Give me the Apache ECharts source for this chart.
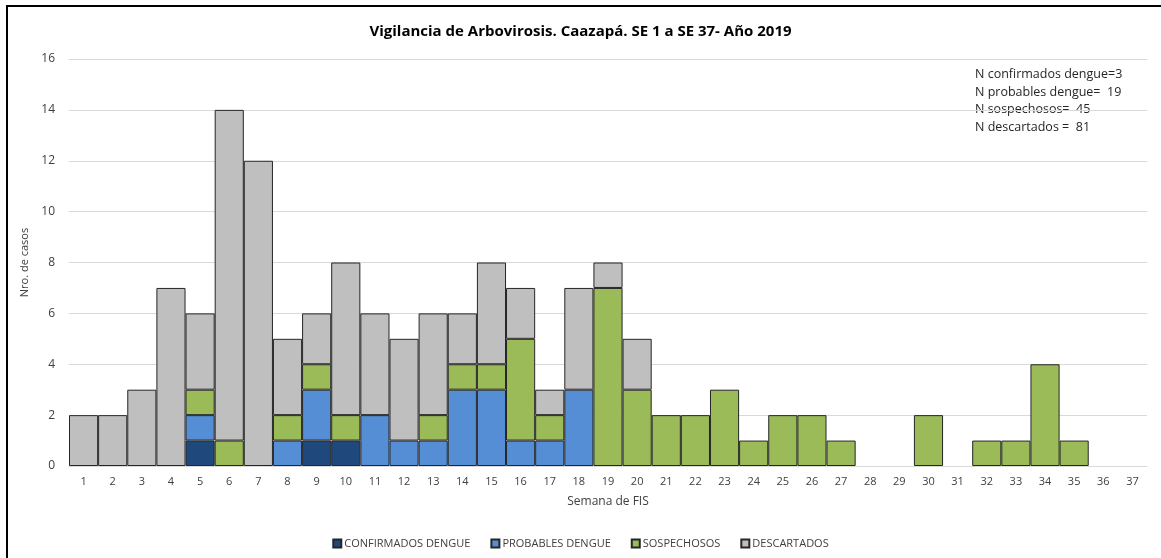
<!DOCTYPE html>
<html>
<head>
<meta charset="utf-8">
<script src="https://cdn.jsdelivr.net/npm/echarts@6/dist/echarts.min.js"></script>
<style>
  html, body { margin: 0; padding: 0; background: #fff; }
  #chart { width: 1161px; height: 558px; }
</style>
</head>
<body>
<div id="chart"></div>
<script>
  // semanas epidemiologicas 1..37
  var semanas = [];
  for (var i = 1; i <= 37; i++) semanas.push(String(i));

  var confirmados = [0,0,0,0,1,0,0,0,1,1,0,0,0,0,0,0,0,0,0,0,0,0,0,0,0,0,0,0,0,0,0,0,0,0,0,0,0];
  var probables   = [0,0,0,0,1,0,0,1,2,0,2,1,1,3,3,1,1,3,0,0,0,0,0,0,0,0,0,0,0,0,0,0,0,0,0,0,0];
  var sospechosos = [0,0,0,0,1,1,0,1,1,1,0,0,1,1,1,4,1,0,7,3,2,2,3,1,2,2,1,0,0,2,0,1,1,4,1,0,0];
  var descartados = [2,2,3,7,3,13,12,3,2,6,4,4,4,2,4,2,1,4,1,2,0,0,0,0,0,0,0,0,0,0,0,0,0,0,0,0,0];

  var yTicks = [0, 2, 4, 6, 8, 10, 12, 14, 16];
  var notas = [
    'N confirmados dengue=3',
    'N probables dengue=  19',
    'N sospechosos=  45',
    'N descartados =  81'
  ];

  var fuente = 'Open Sans';
  var chart = echarts.init(document.getElementById('chart'));

  function serie(nombre, datos, color) {
    return {
      name: nombre,
      type: 'bar',
      stack: 'total',
      barCategoryGap: '0%',
      data: datos.map(function (v) { return v === 0 ? null : v; }),
      itemStyle: { color: color, borderColor: '#262626', borderWidth: 1 },
      emphasis: { disabled: true }
    };
  }

  chart.setOption({
    animation: false,
    textStyle: { fontFamily: fuente },
    title: {
      text: 'Vigilancia de Arbovirosis. Caazapá. SE 1 a SE 37- Año 2019',
      left: 'center',
      top: 19,
      textStyle: { fontSize: 15, fontWeight: 'bold', color: '#000', fontFamily: fuente }
    },
    legend: {
      bottom: 4,
      left: 'center',
      itemWidth: 8,
      itemHeight: 8,
      itemGap: 20,
      icon: 'rect',
      textStyle: { fontSize: 11, color: '#404040', padding: [0, 0, 0, -2] },
      data: ['CONFIRMADOS DENGUE', 'PROBABLES DENGUE', 'SOSPECHOSOS', 'DESCARTADOS']
    },
    grid: { left: 69, right: 14, top: 59, bottom: 92 },
    xAxis: {
      type: 'category',
      data: semanas,
      name: 'Semana de FIS',
      nameLocation: 'middle',
      nameGap: 30,
      nameTextStyle: { fontSize: 12, color: '#404040' },
      axisLine: { lineStyle: { color: '#d9d9d9' } },
      axisTick: { show: false },
      axisLabel: { fontSize: 11, color: '#404040', margin: 10 }
    },
    yAxis: {
      type: 'value',
      min: yTicks[0],
      max: yTicks[yTicks.length - 1],
      interval: 2,
      name: 'Nro. de casos',
      nameLocation: 'middle',
      nameGap: 33,
      nameTextStyle: { fontSize: 11, color: '#404040' },
      axisLine: { show: false },
      axisTick: { show: false },
      axisLabel: { fontSize: 12, color: '#404040', margin: 14 },
      splitLine: { lineStyle: { color: '#d9d9d9' } }
    },
    graphic: [
      {
        type: 'rect',
        shape: { x: 7, y: 6, width: 1160, height: 560 },
        style: { fill: 'none', stroke: '#000', lineWidth: 2 },
        silent: true
      },
      {
        type: 'text',
        left: 975,
        top: 66,
        style: {
          text: notas.join('\n'),
          fontSize: 12.5,
          lineHeight: 17.5,
          fill: '#262626',
          fontFamily: fuente
        }
      }
    ],
    series: [
      serie('CONFIRMADOS DENGUE', confirmados, '#1f497d'),
      serie('PROBABLES DENGUE', probables, '#558ed5'),
      serie('SOSPECHOSOS', sospechosos, '#9bbb59'),
      serie('DESCARTADOS', descartados, '#bfbfbf')
    ]
  });
</script>
</body>
</html>
